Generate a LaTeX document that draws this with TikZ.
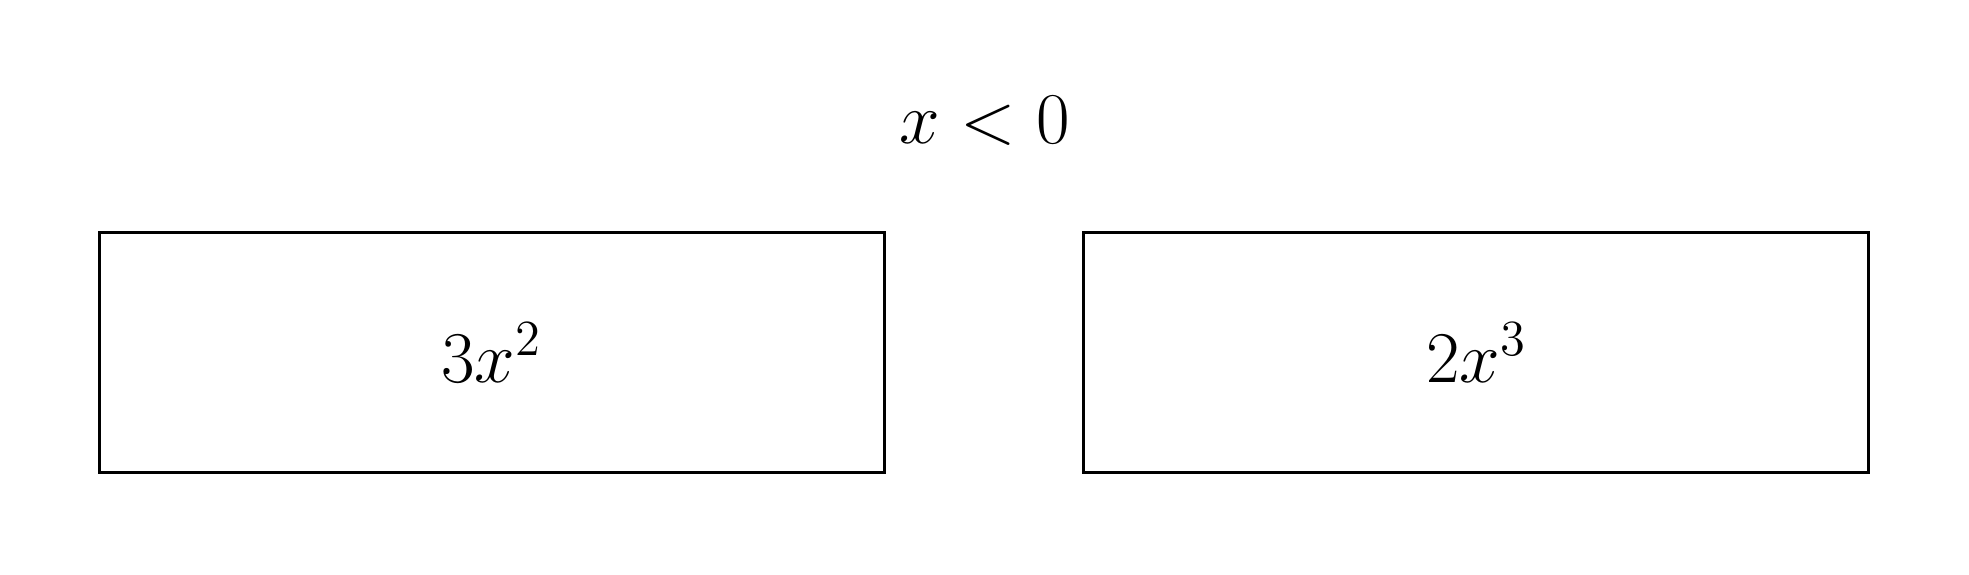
\documentclass[tikz,border=0pt]{standalone}
\begin{document}
\begin{tikzpicture}[
  valbox/.style={draw, line width=0.85pt, minimum width=7.85cm, minimum height=2.404cm, inner sep=0pt, font=\huge}
]
\useasboundingbox (0,0) rectangle (19.69,5.74);
\node[anchor=base, font=\fontsize{20.2}{24}\selectfont] (cond) at (9.845,4.305) {$x<0$};
\node[valbox] (left) at (4.918,2.215) {$3x^2$};
\node[valbox] (right) at (14.763,2.215) {$2x^3$};
\end{tikzpicture}
\end{document}
